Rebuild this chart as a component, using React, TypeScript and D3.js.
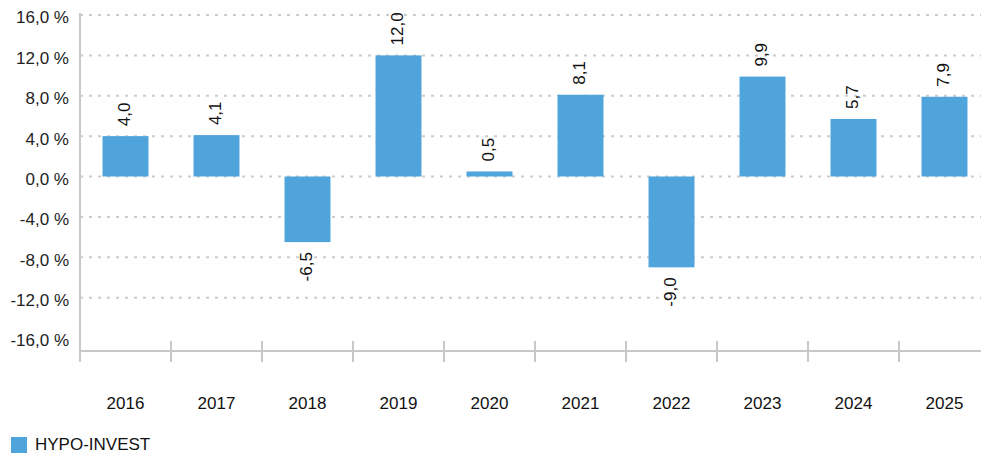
import React from "react";
import * as d3 from "d3";

const categories = ["2016", "2017", "2018", "2019", "2020", "2021", "2022", "2023", "2024", "2025"];
const values = [4.0, 4.1, -6.5, 12.0, 0.5, 8.1, -9.0, 9.9, 5.7, 7.9];
const yTicks = [16, 12, 8, 4, 0, -4, -8, -12, -16];
const seriesName = "HYPO-INVEST";

const W = 981;
const H = 457;
const left = 80;
const step = 91;
const barColor = "#4fa4db";
const gridColor = "#cccccc";
const axisColor = "#c8c8c8";
const font = "'Liberation Sans', Arial, sans-serif";

const fmt = (v: number) => v.toFixed(1).replace(".", ",");

export default function App() {
  const y = d3.scaleLinear().domain([-16, 16]).range([338, 15]);
  const x = d3
    .scaleBand<string>()
    .domain(categories)
    .range([left, left + step * categories.length])
    .paddingInner(0.495)
    .paddingOuter(0.2475);
  const axisY = 351;
  const bw = x.bandwidth();

  return (
    <svg
      width={W}
      height={H}
      style={{ position: "absolute", left: 0, top: 0, background: "#fff" }}
      fontFamily={font}
    >
      {yTicks.map((t) =>
        t === -16 ? null : (
          <line
            key={"g" + t}
            x1={left}
            x2={W}
            y1={y(t)}
            y2={y(t)}
            stroke={gridColor}
            strokeWidth={2}
            strokeDasharray="3,6"
          />
        )
      )}
      {yTicks.map((t) => (
        <text
          key={"t" + t}
          x={69}
          y={y(t) + 4}
          fontSize={17}
          textAnchor="end"
          dominantBaseline="middle"
          fill="#222"
        >
          {fmt(t) + " %"}
        </text>
      ))}
      {values.map((v, i) => {
        const c = categories[i];
        const y0 = y(0);
        const yv = y(v);
        return (
          <rect
            key={"b" + c}
            x={x(c)!}
            y={Math.min(y0, yv)}
            width={bw}
            height={Math.abs(yv - y0)}
            fill={barColor}
          />
        );
      })}
      {values.map((v, i) => {
        const c = categories[i];
        const cx = x(c)! + bw / 2;
        const ly = v >= 0 ? y(v) - 10 : y(v) + 10;
        return (
          <text
            key={"l" + c}
            transform={`translate(${cx},${ly}) rotate(-90)`}
            fontSize={17}
            textAnchor={v >= 0 ? "start" : "end"}
            dominantBaseline="middle"
            fill="#111"
          >
            {fmt(v)}
          </text>
        );
      })}
      <line x1={left} x2={left} y1={13} y2={362} stroke={axisColor} strokeWidth={2} />
      <line x1={left} x2={W} y1={axisY} y2={axisY} stroke={axisColor} strokeWidth={2} />
      {categories.map((c, i) => (
        <line
          key={"tk" + c}
          x1={left + step * i}
          x2={left + step * i}
          y1={341}
          y2={362}
          stroke={axisColor}
          strokeWidth={2}
        />
      ))}
      {categories.map((c) => (
        <text
          key={"c" + c}
          x={x(c)! + bw / 2}
          y={405}
          fontSize={17}
          textAnchor="middle"
          dominantBaseline="middle"
          fill="#111"
        >
          {c}
        </text>
      ))}
      <rect x={11} y={437} width={16} height={16} fill={barColor} />
      <text x={35} y={446} fontSize={17} dominantBaseline="middle" fill="#111">
        {seriesName}
      </text>
    </svg>
  );
}
